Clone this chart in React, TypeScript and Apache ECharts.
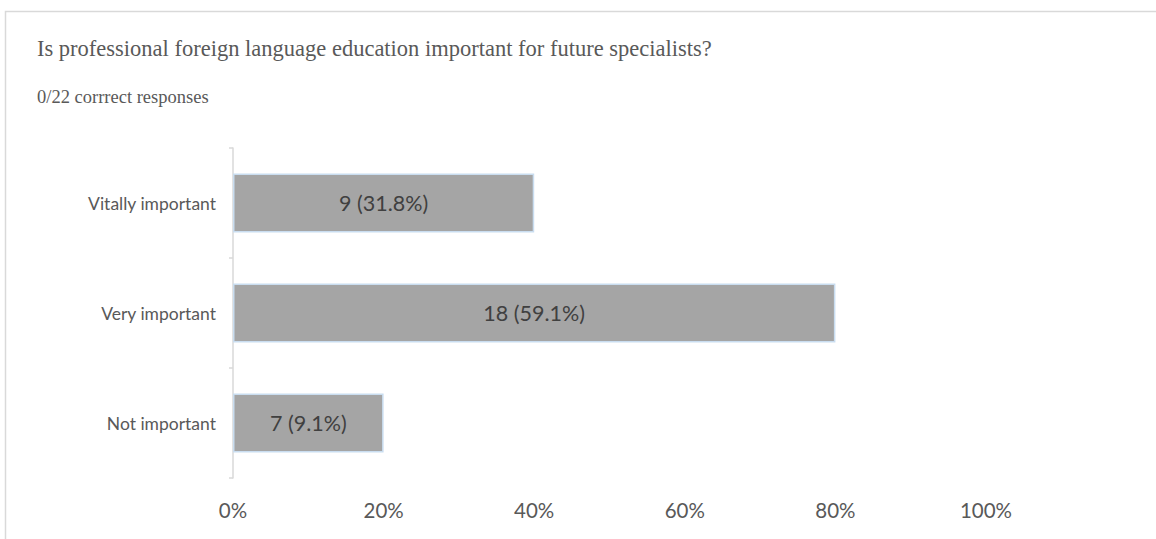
import React, { useEffect, useRef } from "react";
import * as echarts from "echarts";

// Categories in axis order (bottom to top)
const categories = ["Not important", "Very important", "Vitally important"];
// Bar lengths as drawn (fraction of 100%)
const barValues = [0.2, 0.8, 0.4];
// Data labels shown inside bars
const barLabels = ["7 (9.1%)", "18 (59.1%)", "9 (31.8%)"];
// X axis ticks
const xTicks = [0, 0.2, 0.4, 0.6, 0.8, 1.0];

const titleText = "Is professional foreign language education important for future specialists?";
const subtitleText = "0/22 corrrect responses";

export default function App() {
  const ref = useRef<HTMLDivElement>(null);
  useEffect(() => {
    if (!ref.current) return;
    const chart = echarts.init(ref.current, null, { renderer: "svg" });
    chart.setOption({
      animation: false,
      backgroundColor: "#ffffff",
      grid: { left: 233, right: 170, top: 148, bottom: 61, containLabel: false },
      xAxis: {
        type: "value",
        min: xTicks[0],
        max: xTicks[xTicks.length - 1],
        interval: 0.2,
        axisLine: { show: false },
        axisTick: { show: false },
        splitLine: { show: false },
        axisLabel: {
          formatter: (v: number) => Math.round(v * 100) + "%",
          fontFamily: "Lato",
          fontSize: 20.5,
          color: "#595959",
          margin: 21,
        },
      },
      yAxis: {
        type: "category",
        data: categories,
        axisLine: { show: true, lineStyle: { color: "#d9d9d9", width: 1.5 } },
        axisTick: { show: true, length: 4, lineStyle: { color: "#d9d9d9", width: 1.5 } },
        axisLabel: {
          fontFamily: "Lato",
          fontSize: 17.5,
          color: "#595959",
          margin: 17,
        },
      },
      series: [
        {
          type: "bar",
          data: barValues,
          barWidth: 59,
          itemStyle: { color: "#a5a5a5", borderColor: "#c9ddf0", borderWidth: 1.5 },
          label: {
            show: true,
            position: "inside",
            formatter: (p: any) => barLabels[p.dataIndex],
            fontFamily: "Lato",
            fontSize: 21.5,
            color: "#404040",
          },
        },
      ],
      graphic: [
        {
          type: "rect",
          shape: { x: 5.5, y: 11.5, width: 1300, height: 700 },
          style: { fill: "none", stroke: "#d9d9d9", lineWidth: 1.5 },
          silent: true,
        },
        {
          type: "text",
          left: 37,
          top: 37,
          style: {
            text: titleText,
            font: "22.5px 'Liberation Serif'",
            fill: "#595959",
          },
        },
        {
          type: "text",
          left: 37,
          top: 87,
          style: {
            text: subtitleText,
            font: "18.5px 'Liberation Serif'",
            fill: "#595959",
          },
        },
      ],
    });
    return () => chart.dispose();
  }, []);
  return (
    <div
      ref={ref}
      style={{ position: "fixed", left: 0, top: 0, width: 1156, height: 539 }}
    />
  );
}
